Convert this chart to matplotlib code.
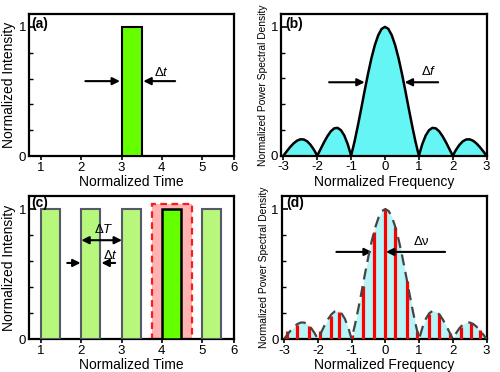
import matplotlib
matplotlib.use("Agg")
import matplotlib.pyplot as plt
from matplotlib.patches import Rectangle
from matplotlib.ticker import MultipleLocator

plt.rcParams['font.family'] = ['Liberation Sans', 'DejaVu Sans']
plt.rcParams['mathtext.fontset'] = 'custom'
plt.rcParams['mathtext.rm'] = 'Liberation Sans'
plt.rcParams['mathtext.it'] = 'Liberation Sans:italic'

# ---- data ----
time_ticks = [1, 2, 3, 4, 5, 5.8]
time_labels = ['1', '2', '3', '4', '5', '6']
freq_ticks = [-3, -2, -1, 0, 1, 2, 3]
freq_labels = ['-3', '-2', '-1', '0', '1', '2', '3']

single_pulse_start = [3.0]
single_pulse_width = [0.5]
single_pulse_height = [1.0]

train_starts = [1.0, 2.0, 3.0, 4.0, 5.0]
train_width = [0.47, 0.47, 0.47, 0.47, 0.47]
train_heights = [1.0, 1.0, 1.0, 1.0, 1.0]
highlight_index = 3

freq = [-3.0, -2.9, -2.8, -2.7, -2.6, -2.5, -2.4, -2.3, -2.2, -2.1,
        -2.0, -1.9, -1.8, -1.7, -1.6, -1.5, -1.4, -1.3, -1.2, -1.1,
        -1.0, -0.9, -0.8, -0.7, -0.6, -0.5, -0.4, -0.3, -0.2, -0.1,
        0.0, 0.1, 0.2, 0.3, 0.4, 0.5, 0.6, 0.7, 0.8, 0.9,
        1.0, 1.1, 1.2, 1.3, 1.4, 1.5, 1.6, 1.7, 1.8, 1.9,
        2.0, 2.1, 2.2, 2.3, 2.4, 2.5, 2.6, 2.7, 2.8, 2.9, 3.0]
psd = [0.0, 0.034, 0.067, 0.095, 0.116, 0.127, 0.126, 0.112, 0.085, 0.047,
       0.0, 0.052, 0.104, 0.151, 0.189, 0.212, 0.216, 0.198, 0.156, 0.089,
       0.0, 0.109, 0.234, 0.368, 0.505, 0.637, 0.757, 0.858, 0.935, 0.984,
       1.0, 0.984, 0.935, 0.858, 0.757, 0.637, 0.505, 0.368, 0.234, 0.109,
       0.0, 0.089, 0.156, 0.198, 0.216, 0.212, 0.189, 0.151, 0.104, 0.052,
       0.0, 0.047, 0.085, 0.112, 0.126, 0.127, 0.116, 0.095, 0.067, 0.034, 0.0]

comb_freq = [-2.92, -2.63, -2.25, -1.95, -1.62, -1.36, -1.0, -0.67, -0.34, 0.0,
             0.30, 0.64, 0.94, 1.28, 1.60, 1.92, 2.23, 2.53, 2.80]
comb_height = [0.06, 0.11, 0.10, 0.06, 0.18, 0.21, 0.03, 0.41, 0.82, 1.0,
               0.86, 0.45, 0.06, 0.19, 0.19, 0.05, 0.094, 0.125, 0.067]

# ---- figure ----
fig = plt.figure(figsize=(5.0, 3.72), dpi=100)
ax_a = fig.add_axes([0.058, 0.5806, 0.4106, 0.3818])
ax_b = fig.add_axes([0.562, 0.5815, 0.4126, 0.3809])
ax_c = fig.add_axes([0.058, 0.0887, 0.4106, 0.3844])
ax_d = fig.add_axes([0.5634, 0.0887, 0.4112, 0.3844])

LBL = 10
TCK = 9.5


def style(ax, xlim, xticks, xlabels, xlabel, ylabel, ylabsize):
    ax.set_xlim(*xlim)
    ax.set_ylim(0, 1.1)
    ax.set_xticks(xticks)
    ax.set_xticklabels(xlabels, fontsize=TCK)
    ax.set_yticks([0, 1])
    ax.set_yticklabels(['0', '1'], fontsize=TCK)
    ax.yaxis.set_minor_locator(MultipleLocator(0.2))
    ax.tick_params(axis='x', direction='out', length=3, width=1.2, pad=1)
    ax.tick_params(axis='y', which='major', direction='in', length=4, width=1.2, pad=2)
    ax.tick_params(axis='y', which='minor', direction='in', length=3, width=1.0)
    for s in ax.spines.values():
        s.set_linewidth(1.6)
        s.set_color('black')
    ax.set_xlabel(xlabel, fontsize=LBL, labelpad=1)
    ax.set_ylabel(ylabel, fontsize=ylabsize, labelpad=2)


def arrow(ax, x0, x1, y, both=False):
    ax.annotate('', xy=(x1, y), xytext=(x0, y),
                arrowprops=dict(arrowstyle='<|-|>' if both else '-|>', color='black',
                                lw=1.5, mutation_scale=11, shrinkA=0, shrinkB=0))


# (a)
for x, w, h in zip(single_pulse_start, single_pulse_width, single_pulse_height):
    ax_a.add_patch(Rectangle((x, 0), w, h, facecolor='#66ff00', edgecolor='black', lw=1.5, zorder=3))
arrow(ax_a, 2.1, 2.96, 0.58)
arrow(ax_a, 4.33, 3.54, 0.58)
ax_a.text(4.0, 0.65, r'$\Delta t$', fontsize=9.5, ha='center', va='center')
ax_a.text(0.76, 1.08, '(a)', fontsize=LBL, fontweight='bold', ha='left', va='top')
style(ax_a, (0.7, 5.8), time_ticks, time_labels, 'Normalized Time', 'Normalized Intensity', LBL)

# (b)
ax_b.fill_between(freq, psd, 0, color='#66f5f5', lw=0)
ax_b.plot(freq, psd, color='black', lw=1.8)
arrow(ax_b, -1.65, -0.6, 0.57)
arrow(ax_b, 1.57, 0.58, 0.57)
ax_b.text(1.28, 0.65, r'$\Delta f$', fontsize=9.5, ha='center', va='center')
ax_b.text(-2.95, 1.08, '(b)', fontsize=LBL, fontweight='bold', ha='left', va='top')
style(ax_b, (-3.07, 3.02), freq_ticks, freq_labels, 'Normalized Frequency',
      'Normalized Power Spectral Density', 7.4)

# (c)
ax_c.add_patch(Rectangle((3.75, 0), 1.0, 1.04, facecolor='#ffb3b3', edgecolor='#ff1a1a',
                         lw=1.6, ls=(0, (3, 2)), zorder=1))
for i, (x, w, h) in enumerate(zip(train_starts, train_width, train_heights)):
    if i == highlight_index:
        ax_c.add_patch(Rectangle((x, 0), w, h, facecolor='#66ff00', edgecolor='black', lw=1.8, zorder=3))
    else:
        ax_c.add_patch(Rectangle((x, 0), w, h, facecolor='#b6f77c', edgecolor='#555a66', lw=1.5, zorder=3))
arrow(ax_c, 2.0, 3.01, 0.76, both=True)
ax_c.text(2.55, 0.845, r'$\Delta T$', fontsize=9.5, ha='center', va='center', zorder=5)
arrow(ax_c, 1.65, 1.98, 0.585)
arrow(ax_c, 2.84, 2.5, 0.585)
ax_c.text(2.72, 0.645, r'$\Delta t$', fontsize=9.5, ha='center', va='center', zorder=5)
ax_c.text(0.76, 1.1, '(c)', fontsize=LBL, fontweight='bold', ha='left', va='top', zorder=5)
style(ax_c, (0.7, 5.8), time_ticks, time_labels, 'Normalized Time', 'Normalized Intensity', LBL)

# (d)
ax_d.fill_between(freq, psd, 0, color='#b8f5f8', lw=0)
ax_d.vlines(comb_freq, 0, comb_height, color='#ff0000', lw=2.3, zorder=3)
ax_d.plot(freq, psd, color='#444444', lw=1.6, ls=(0, (5, 3)), zorder=4)
arrow(ax_d, -1.45, -0.4, 0.67)
arrow(ax_d, 1.77, 0.02, 0.67)
ax_d.text(1.08, 0.745, 'Δν', fontsize=9.5, ha='center', va='center')
ax_d.text(-2.95, 1.1, '(d)', fontsize=LBL, fontweight='bold', ha='left', va='top')
style(ax_d, (-3.07, 3.02), freq_ticks, freq_labels, 'Normalized Frequency',
      'Normalized Power Spectral Density', 7.4)

fig.savefig('out.png', dpi=100)
